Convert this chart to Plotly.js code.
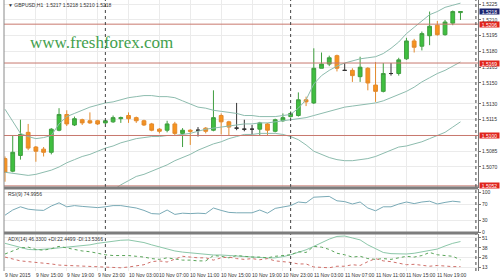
<!DOCTYPE html>
<html><head><meta charset="utf-8">
<script src="https://cdn.plot.ly/plotly-3.0.1.min.js"></script>
<style>html,body{margin:0;padding:0;background:#fff;}#chart{width:500px;height:279px;}</style>
</head><body><div id="chart"></div>
<script>
const symbolInfo = "GBPUSD,H1  1.5217 1.5218 1.5210 1.5218";
const watermark = "www.freshforex.com";
const rsiLabel = "RSI(9) 74.9956";
const adxLabel = "ADX(14) 46.3300 +DI:22.4499 -DI:13.5366";

const open = [1.5078,1.5066,1.5081,1.5103,1.5089,1.5087,1.5084,1.5105,1.5120,1.5110,
 1.5115,1.5114,1.5114,1.5112,1.5113,1.5116,1.5119,1.5117,1.5114,1.5111,
 1.5106,1.5105,1.5111,1.5102,1.5105,1.5105,1.5107,1.5105,1.5119,1.5113,
 1.5107,1.5106,1.5106,1.5106,1.5111,1.5104,1.5114,1.5118,1.5119,1.5134,
 1.5131,1.5164,1.5168,1.5176,1.5162,1.5162,1.5156,1.5164,1.5148,1.5142,
 1.5159,1.5159,1.5173,1.5190,1.5185,1.5195,1.5205,1.5196,1.5207,1.5217];
const high = [1.5080,1.5100,1.5115,1.5111,1.5090,1.5089,1.5107,1.5126,1.5124,1.5118,
 1.5116,1.5122,1.5115,1.5115,1.5119,1.5118,1.5122,1.5118,1.5115,1.5112,
 1.5107,1.5114,1.5113,1.5107,1.5106,1.5108,1.5108,1.5143,1.5121,1.5114,
 1.5131,1.5115,1.5110,1.5113,1.5112,1.5116,1.5121,1.5123,1.5141,1.5137,
 1.5183,1.5179,1.5176,1.5177,1.5169,1.5164,1.5175,1.5165,1.5170,1.5169,
 1.5169,1.5174,1.5193,1.5192,1.5199,1.5218,1.5209,1.5210,1.5219,1.5218];
const low = [1.5056,1.5065,1.5077,1.5086,1.5075,1.5080,1.5082,1.5104,1.5109,1.5109,
 1.5110,1.5111,1.5110,1.5111,1.5112,1.5112,1.5112,1.5112,1.5109,1.5104,
 1.5102,1.5103,1.5100,1.5089,1.5091,1.5099,1.5102,1.5104,1.5101,1.5100,
 1.5105,1.5104,1.5100,1.5100,1.5100,1.5103,1.5113,1.5117,1.5118,1.5128,
 1.5130,1.5164,1.5166,1.5161,1.5162,1.5151,1.5151,1.5143,1.5132,1.5141,
 1.5157,1.5157,1.5172,1.5179,1.5181,1.5186,1.5195,1.5195,1.5205,1.5210];
const close = [1.5065,1.5084,1.5101,1.5088,1.5085,1.5084,1.5106,1.5120,1.5111,1.5116,
 1.5112,1.5112,1.5111,1.5114,1.5117,1.5117,1.5116,1.5114,1.5110,1.5105,
 1.5104,1.5111,1.5102,1.5105,1.5104,1.5105,1.5104,1.5117,1.5113,1.5108,
 1.5107,1.5106,1.5106,1.5112,1.5105,1.5115,1.5117,1.5121,1.5134,1.5132,
 1.5164,1.5168,1.5174,1.5164,1.5162,1.5157,1.5165,1.5150,1.5142,1.5159,
 1.5159,1.5172,1.5190,1.5184,1.5197,1.5204,1.5196,1.5208,1.5218,1.5218];

const bbUpper = [1.5125,1.5113,1.5102,1.5099,1.5097,1.5098,1.5100,1.5111,1.5118,1.5121,
 1.5124,1.5127,1.5129,1.5131,1.5132,1.5134,1.5136,1.5137,1.5138,1.5138,
 1.5137,1.5137,1.5136,1.5133,1.5130,1.5127,1.5126,1.5124,1.5123,1.5122,
 1.5121,1.5119,1.5119,1.5118,1.5118,1.5118,1.5119,1.5120,1.5126,1.5134,
 1.5149,1.5157,1.5162,1.5166,1.5169,1.5171,1.5173,1.5174,1.5175,1.5178,
 1.5183,1.5189,1.5197,1.5203,1.5209,1.5215,1.5218,1.5222,1.5224,1.5226];
const bbMiddle = [1.5065,1.5064,1.5063,1.5062,1.5063,1.5065,1.5067,1.5070,1.5074,1.5077,
 1.5080,1.5082,1.5085,1.5088,1.5090,1.5093,1.5095,1.5097,1.5098,1.5099,
 1.5099,1.5100,1.5100,1.5101,1.5102,1.5104,1.5106,1.5107,1.5108,1.5109,
 1.5110,1.5111,1.5111,1.5112,1.5112,1.5113,1.5114,1.5115,1.5116,1.5117,
 1.5119,1.5121,1.5123,1.5125,1.5127,1.5128,1.5129,1.5130,1.5131,1.5133,
 1.5136,1.5139,1.5142,1.5146,1.5151,1.5155,1.5159,1.5162,1.5166,1.5170];
const bbLower = [1.5005,1.5015,1.5024,1.5025,1.5029,1.5032,1.5034,1.5029,1.5030,1.5033,
 1.5036,1.5037,1.5041,1.5045,1.5048,1.5053,1.5057,1.5061,1.5063,1.5066,
 1.5069,1.5072,1.5076,1.5079,1.5082,1.5086,1.5089,1.5092,1.5094,1.5097,
 1.5099,1.5101,1.5101,1.5102,1.5102,1.5102,1.5101,1.5099,1.5096,1.5091,
 1.5085,1.5082,1.5079,1.5077,1.5076,1.5076,1.5077,1.5078,1.5080,1.5083,
 1.5086,1.5089,1.5090,1.5092,1.5094,1.5097,1.5100,1.5103,1.5108,1.5113];

const rsi = [42,55,63,57,55,54,65,73,63,66,
 64,62,61,63,66,66,63,60,54,46,
 45,55,44,47,46,47,46,60,54,49,
 48,48,48,55,47,59,62,66,75,73,
 87,88,89,78,76,70,75,60,53,63,
 63,70,75,71,75,77,70,74,77,74.9956];
const adx = [44,41,38,36,35.5,36,37,38,39,39.5,
 40.5,42,44,45.5,47,48,48.4,47,45,42,
 39,36,34,32.5,31.5,30.5,29.5,28.7,28.7,28,
 27.5,26.5,26,25.3,24.8,25,26.5,29,32,35.5,
 40,45,49.5,53,53.6,51,48.5,42,37,32,
 30.5,30,30,31,32.7,34,36.5,40.5,44,46.33];
const plusDI = [30,34,38,39,36,35,37,40,38,36,
 34,33,31,29,28,28,28,27,26,24,
 23,25,24,22,22,21,21,28,27,25,
 28,27,26,26,25,27,28,29,33,32,
 40,39,36,31,29,26,27,24,23,24,
 23,25,27,26,28,32,29,28,27,22.4499];
const minusDI = [26,24,21,20,19,18.5,17,15.5,15,14.5,
 14,13.5,13,12.5,12,12,13,14,16,20,
 21,19.5,23,27,26,25,25,22,25,26,
 24,23,24,22.5,24,21,20,19,17,17,
 13,12.5,12,14,14,16,15,20,24,21,
 20,18,16,16.5,15,14,15,14,13.5,13.5366];

const timeTickIdx = [0,4,8,12,16,20,24,28,32,36,40,44,48,52,56];
const timeTickText = ["9 Nov 2015","9 Nov 15:00","9 Nov 19:00","9 Nov 23:00","10 Nov 03:00","10 Nov 07:00",
 "10 Nov 11:00","10 Nov 15:00","10 Nov 19:00","10 Nov 23:00","11 Nov 03:00","11 Nov 07:00",
 "11 Nov 11:00","11 Nov 15:00","11 Nov 19:00"];
const daySeparatorIdx = [13, 37, 61];
const priceTicks = [1.5225,1.5210,1.5195,1.5180,1.5165,1.5150,1.5130,1.5115,1.5085,1.5070];
const redLevels = [1.5206,1.5169,1.5100,1.5052];
const currentPrice = 1.5218;
const rsiTicks = [0,30,70,100];
const adxTicks = [13,26,38,51];

const idx = open.map((_, i) => i);
const isDoji = idx.map(i => open[i] === close[i]);
const pick = (arr, want) => arr.filter((_, i) => isDoji[i] === want);

const FONT = 'Liberation Sans, Arial, sans-serif';
const H = 271; // plot area height in px (279 - bottom margin)
const py = p => (H - p) / H; // pixel row -> paper y

const traces = [
  {type:'scatter', mode:'lines', x:idx, y:bbUpper, line:{color:'#8dbcae', width:1}, hoverinfo:'skip'},
  {type:'scatter', mode:'lines', x:idx, y:bbMiddle, line:{color:'#8dbcae', width:1}, hoverinfo:'skip'},
  {type:'scatter', mode:'lines', x:idx, y:bbLower, line:{color:'#8dbcae', width:1}, hoverinfo:'skip'},
  {type:'candlestick', x:pick(idx,false), open:pick(open,false), high:pick(high,false), low:pick(low,false), close:pick(close,false),
   increasing:{line:{color:'#3f9e3f', width:1}, fillcolor:'#3fbf3f'},
   decreasing:{line:{color:'#e38a2c', width:1}, fillcolor:'#f7931e'},
   whiskerwidth:0, hoverinfo:'skip'},
  {type:'candlestick', x:pick(idx,true), open:pick(open,true), high:pick(high,true), low:pick(low,true), close:pick(close,true),
   increasing:{line:{color:'#333333', width:1}, fillcolor:'#333333'},
   decreasing:{line:{color:'#333333', width:1}, fillcolor:'#333333'},
   whiskerwidth:0, hoverinfo:'skip'},
  {type:'scatter', mode:'lines', x:idx, y:rsi, yaxis:'y2', line:{color:'#79aab6', width:1}, hoverinfo:'skip'},
  {type:'scatter', mode:'lines', x:idx, y:adx, yaxis:'y3', line:{color:'#8cc7a9', width:1}, hoverinfo:'skip'},
  {type:'scatter', mode:'lines', x:idx, y:plusDI, yaxis:'y3', line:{color:'#5aa55a', width:1, dash:'dot'}, hoverinfo:'skip'},
  {type:'scatter', mode:'lines', x:idx, y:minusDI, yaxis:'y3', line:{color:'#d0706a', width:1, dash:'dot'}, hoverinfo:'skip'}
];

const shapes = [];
redLevels.forEach(v => shapes.push({type:'line', xref:'paper', x0:0, x1:1, yref:'y', y0:v, y1:v, line:{color:'#c8786e', width:1}}));
daySeparatorIdx.forEach(v => shapes.push({type:'line', xref:'x', x0:v, x1:v, yref:'paper', y0:0, y1:1, line:{color:'#444', width:1, dash:'dot'}}));
shapes.push({type:'rect', xref:'paper', x0:0, x1:1, yref:'paper', y0:py(189.5), y1:py(186.5), fillcolor:'#7d7d7d', line:{width:0}});
shapes.push({type:'rect', xref:'paper', x0:0, x1:1, yref:'paper', y0:py(234.5), y1:py(231.5), fillcolor:'#7d7d7d', line:{width:0}});
shapes.push({type:'line', xref:'paper', x0:0, x1:0, yref:'paper', y0:0, y1:1, line:{color:'#8a8a8a', width:1}});

const annotations = [
  {xref:'paper', yref:'paper', x:0.004, y:py(5), xanchor:'left', yanchor:'middle', showarrow:false,
   text:'\u25BC ' + symbolInfo, font:{family:FONT, size:5, color:'#333'}},
  {xref:'paper', yref:'paper', x:(28-4)/474, y:py(43), xanchor:'left', yanchor:'middle', showarrow:false,
   text:watermark, font:{family:'Liberation Serif, DejaVu Serif, serif', size:17, color:'#43a04d'}},
  {xref:'paper', yref:'paper', x:(6-4)/474, y:py(194), xanchor:'left', yanchor:'middle', showarrow:false,
   text:rsiLabel, font:{family:FONT, size:5, color:'#333'}},
  {xref:'paper', yref:'paper', x:(6-4)/474, y:py(239), xanchor:'left', yanchor:'middle', showarrow:false,
   text:adxLabel, font:{family:FONT, size:5, color:'#333'}}
];
redLevels.forEach(v => annotations.push({xref:'paper', yref:'y', x:1.002, y:v, xanchor:'left', yanchor:'middle', showarrow:false,
   text:v.toFixed(4), font:{family:FONT, size:5, color:'#fff'}, bgcolor:'#e0241c', width:19, height:5, borderpad:0}));
annotations.push({xref:'paper', yref:'y', x:1.002, y:currentPrice, xanchor:'left', yanchor:'middle', showarrow:false,
   text:currentPrice.toFixed(4), font:{family:FONT, size:5, color:'#fff'}, bgcolor:'#1b2470', width:19, height:5, borderpad:0});
timeTickIdx.forEach((v, k) => annotations.push({xref:'x', yref:'paper', x:v, y:py(275), xanchor:'left', yanchor:'middle',
   xshift:-2, showarrow:false, text:timeTickText[k], font:{family:FONT, size:5, color:'#333'}}));

const yCommon = {side:'right', showline:true, linecolor:'#777', linewidth:1, ticks:'outside', ticklen:2, tickcolor:'#777',
  tickfont:{family:FONT, size:5, color:'#333'}, showgrid:true, gridcolor:'#ebebeb', zeroline:false, fixedrange:true};

const layout = {
  width:500, height:279, margin:{l:4, r:22, t:0, b:8}, paper_bgcolor:'#fff', plot_bgcolor:'#fff',
  showlegend:false, font:{family:FONT, size:5, color:'#333'},
  xaxis:{range:[-0.13, 61.27], tickvals:timeTickIdx, showticklabels:false,
    showgrid:true, gridcolor:'#ebebeb', zeroline:false, showline:false, ticks:'', anchor:'y3',
    rangeslider:{visible:false}, fixedrange:true},
  yaxis:Object.assign({}, yCommon, {domain:[py(188), 1], range:[1.5050, 1.5229], tickvals:priceTicks, tickformat:'.4f'}),
  yaxis2:Object.assign({}, yCommon, {domain:[py(233), py(189)], range:[-2.5, 107.5], tickvals:rsiTicks}),
  yaxis3:Object.assign({}, yCommon, {domain:[0, py(234)], range:[7.76, 56.2], tickvals:adxTicks}),
  shapes:shapes, annotations:annotations
};

Plotly.newPlot('chart', traces, layout, {staticPlot:true, displayModeBar:false});
</script></body></html>
